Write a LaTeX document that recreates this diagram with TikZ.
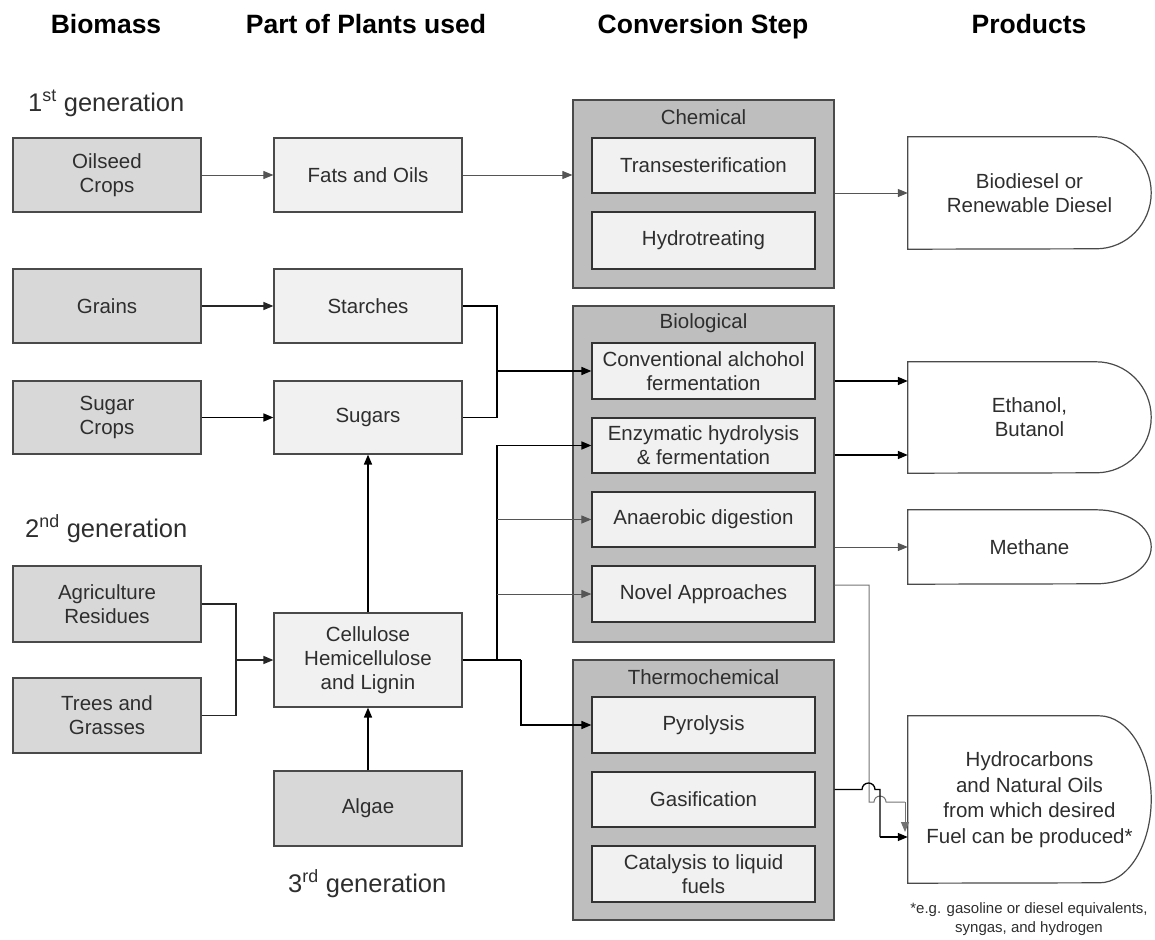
\documentclass[tikz,border=0pt]{standalone}
\usepackage{fontspec}
\setmainfont{Liberation Sans}
\usetikzlibrary{arrows.meta}
\definecolor{bmfill}{HTML}{D8D8D8}
\definecolor{midfill}{HTML}{F1F1F1}
\definecolor{outfill}{HTML}{BEBEBE}
\definecolor{bdc}{HTML}{4A4A4A}
\definecolor{txtc}{HTML}{2E2E2E}
\definecolor{thinc}{HTML}{555555}
\begin{document}
\begin{tikzpicture}[x=1pt,y=1pt,
  txt/.style={font=\fontsize{20.5}{24}\selectfont, text=txtc, align=center, inner sep=0pt},
  bmbox/.style={txt, draw=bdc, fill=bmfill, line width=1.2pt, minimum width=188pt},
  midbox/.style={txt, draw=bdc, fill=midfill, line width=1.2pt, minimum width=188pt},
  outbox/.style={draw=bdc, fill=outfill, line width=1.2pt, minimum width=261pt, inner sep=0pt},
  inbox/.style={txt, draw=black!80, fill=midfill, line width=1.2pt, minimum width=223pt},
  grplbl/.style={txt},
  prodtxt/.style={txt, minimum width=243pt},
  prodline/.style={draw=bdc, line width=1.2pt},
  hdr/.style={font=\fontsize{26.5}{30}\selectfont\bfseries, inner sep=0pt, anchor=base},
  gen/.style={font=\fontsize{25.5}{29}\selectfont, text=txtc, anchor=base west, inner sep=0pt},
  tip/.style={-{Triangle[length=10pt,width=8pt]}},
  thinln/.style={draw=thinc, line width=1pt},
  medln/.style={draw=black!85, line width=1.3pt},
  thickln/.style={draw=black, line width=1.6pt}
]
\useasboundingbox (0,0) rectangle (1155,-939);

% headers
\node[hdr] (h1) at (106,-34) {Biomass};
\node[hdr] (h2) at (366,-34) {Part of Plants used};
\node[hdr] (h3) at (703,-34) {Conversion Step};
\node[hdr] (h4) at (1029,-34) {Products};

% generations
\node[gen] (g1) at (28,-111) {1\textsuperscript{st} generation};
\node[gen] (g2) at (25,-537) {2\textsuperscript{nd} generation};
\node[gen] (g3) at (288,-892) {3\textsuperscript{rd} generation};

% biomass
\node[bmbox, minimum height=74pt] (oil) at (107,-175) {Oilseed\\Crops};
\node[bmbox, minimum height=74pt] (grain) at (107,-306) {Grains};
\node[bmbox, minimum height=73pt] (sugc) at (107,-417.5) {Sugar\\Crops};
\node[bmbox, minimum height=76pt] (agri) at (107,-604) {Agriculture\\Residues};
\node[bmbox, minimum height=75pt] (tree) at (107,-715.5) {Trees and\\Grasses};
\node[bmbox, minimum height=75pt] (alg) at (368,-808.5) {Algae};

% parts of plants
\node[midbox, minimum height=74pt] (fats) at (368,-175) {Fats and Oils};
\node[midbox, minimum height=74pt] (starch) at (368,-306) {Starches};
\node[midbox, minimum height=73pt] (sugars) at (368,-417.5) {Sugars};
\node[midbox, minimum height=94pt] (cell) at (368,-660) {Cellulose\\Hemicellulose\\and Lignin};

% conversion groups
\node[outbox, minimum height=188pt] (chem) at (703.5,-194) {};
\node[outbox, minimum height=336pt] (bio) at (703.5,-474) {};
\node[outbox, minimum height=260pt] (thermo) at (703.5,-790) {};
\node[grplbl] (chemlbl) at (703.5,-117) {Chemical};
\node[grplbl] (biolbl) at (703.5,-323) {Biological};
\node[grplbl] (thermolbl) at (703.5,-677) {Thermochemical};

\node[inbox, minimum height=55pt] (trans) at (703.5,-165.5) {Transesterification};
\node[inbox, minimum height=57pt] (hydro) at (703.5,-240.5) {Hydrotreating};
\node[inbox, minimum height=56pt] (conv) at (703.5,-371) {Conventional alchohol\\fermentation};
\node[inbox, minimum height=55pt] (enz) at (703.5,-445.5) {Enzymatic hydrolysis\\\& fermentation};
\node[inbox, minimum height=55pt] (anae) at (703.5,-519.5) {Anaerobic digestion};
\node[inbox, minimum height=56pt] (novel) at (703.5,-594) {Novel Approaches};
\node[inbox, minimum height=56pt] (pyro) at (703.5,-725) {Pyrolysis};
\node[inbox, minimum height=55pt] (gas) at (703.5,-799.5) {Gasification};
\node[inbox, minimum height=56pt] (cata) at (703.5,-874) {Catalysis to liquid\\fuels};

% products
\node[prodtxt, minimum height=112pt] (bd) at (1029.5,-193) {Biodiesel or\\Renewable Diesel};
\draw[prodline] (bd.north west) -- ([xshift=-55pt]bd.north east) arc[start angle=90,end angle=-90,x radius=55pt,y radius=56pt] -- (bd.south west) -- cycle;
\node[prodtxt, minimum height=111pt] (eth) at (1029.5,-417.5) {Ethanol,\\Butanol};
\draw[prodline] (eth.north west) -- ([xshift=-55pt]eth.north east) arc[start angle=90,end angle=-90,x radius=55pt,y radius=55.5pt] -- (eth.south west) -- cycle;
\node[prodtxt, minimum height=74pt] (meth) at (1029.5,-547) {Methane};
\draw[prodline] (meth.north west) -- ([xshift=-55pt]meth.north east) arc[start angle=90,end angle=-90,x radius=55pt,y radius=37pt] -- (meth.south west) -- cycle;
\node[prodtxt, minimum height=167pt, font=\fontsize{20.5}{25.5}\selectfont] (hyd) at (1029.5,-799.5) {Hydrocarbons\\and Natural Oils\\from which desired\\Fuel can be produced*};
\draw[prodline] (hyd.north west) -- ([xshift=-52pt]hyd.north east) arc[start angle=90,end angle=-90,x radius=52pt,y radius=83.5pt] -- (hyd.south west) -- cycle;
\node[txt, font=\fontsize{15}{19}\selectfont] (foot) at (1029,-919.5) {*e.g. gasoline or diesel equivalents,\\syngas, and hydrogen};

% junction coordinates
\coordinate (jss) at (497,-371);
\coordinate (jat) at (236,-660);
\coordinate (jc) at (497,-660);
\coordinate (jp) at (521,-660);
\coordinate (convout) at ([yshift=-10pt]conv.east);
\coordinate (enzout) at ([yshift=-9.5pt]enz.east);
\coordinate (novout) at ([yshift=9pt]novel.east);
\coordinate (gasout) at ([yshift=10pt]gas.east);
\coordinate (nv) at (869,-585);
\coordinate (nvb) at (869,-802);
\coordinate (nh1) at (874,-802);
\coordinate (nend) at (905,-802);
\coordinate (nend2) at (905,-832);
\coordinate (gh1) at (862,-789.5);
\coordinate (gv) at (880,-789.5);
\coordinate (gvb) at (880,-837);

% first generation
\draw[thinln, tip] (oil) -- (fats);
\draw[thinln, tip] (fats.east) -- (fats.east -| chem.west);
\draw[thinln, tip] (chem.east |- bd.west) -- (bd.west);

% starches & sugars
\draw[medln, tip] (grain) -- (starch);
\draw[thickln, tip] (sugc) -- (sugars);
\draw[thickln] (starch.east) -- (starch.east -| jss) -- (sugars.east -| jss) -- (sugars.east);
\draw[thickln, tip] (jss) -- (jss -| conv.west);

% second / third generation
\draw[medln] (agri.east) -- (agri.east -| jat) -- (tree.east -| jat) -- (tree.east);
\draw[medln, tip] (jat) -- (cell.west);
\draw[thickln, tip] (cell.north) -- (sugars.south);
\draw[thickln, tip] (alg.north) -- (cell.south);

% cellulose to biological / thermochemical
\draw[thickln] (cell.east) -- (jp);
\draw[thickln, tip] (jc) -- (jc |- enz.west) -- (enz.west);
\draw[thinln, tip] (jc |- anae.west) -- (anae.west);
\draw[thinln, tip] (jc |- novel.west) -- (novel.west);
\draw[thickln, tip] (jp) -- (jp |- pyro.west) -- (pyro.west);

% biological to products
\draw[thickln, tip] (convout -| bio.east) -- (convout -| eth.west);
\draw[thickln, tip] (enzout -| bio.east) -- (enzout -| eth.west);
\draw[thinln, tip] (meth.west -| bio.east) -- (meth.west);

% novel approaches line (gray, with hop)
\draw[thinln, draw=black!55] (novout -| bio.east) -- (nv) -- (nvb) -- (nh1) arc[start angle=180,end angle=0,radius=6pt] -- (nend);
\draw[thinln, draw=black!55, tip] (nend) -- (nend2);

% gasification line (with hop)
\draw[thickln, line width=1.3pt] (gasout -| thermo.east) -- (gh1) arc[start angle=180,end angle=0,radius=6.5pt] -- (gv) -- (gvb);
\draw[thickln, line width=1.3pt, tip] (gvb) -- (gvb -| hyd.west);
\end{tikzpicture}
\end{document}
